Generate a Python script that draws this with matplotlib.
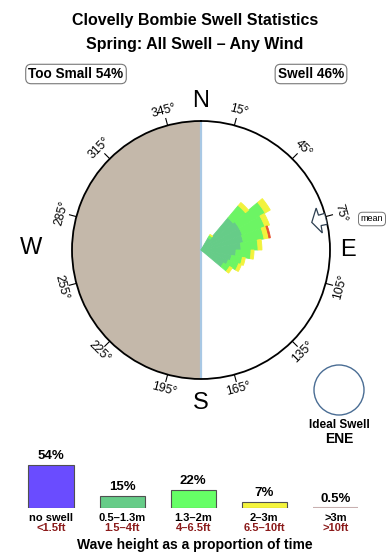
import numpy as np
import matplotlib
matplotlib.use('Agg')
import matplotlib.pyplot as plt
from matplotlib.patches import Circle

plt.rcParams['font.family'] = ['Liberation Sans', 'DejaVu Sans']

# Datos de la rosa: centro de cada sector de 10 grados
directions = [35, 45, 55, 65, 75, 85, 95, 105, 115, 125]
# % del tiempo por direccion y altura de ola
swell_05_13 = [0.28, 2.49, 2.73, 2.73, 2.61, 2.26, 1.73, 1.36, 1.19, 0.95]
swell_13_2 = [0.13, 2.26, 5.00, 3.80, 3.17, 2.33, 1.80, 1.13, 1.07, 0.59]
swell_2_3 = [0.05, 0.68, 1.31, 0.99, 0.94, 0.66, 0.44, 0.37, 0.35, 0.29]
swell_3p = [0, 0, 0, 0, 0.30, 0, 0, 0, 0, 0]
rose_max = 23.5  # % que corresponde al circulo exterior (escala por area)

# Leyenda inferior
height_pct = [54, 15, 22, 7, 0.5]
height_labels = ['no swell', '0.5\u20131.3m', '1.3\u20132m', '2\u20133m', '>3m']
feet_labels = ['<1.5ft', '1.5\u20134ft', '4\u20136.5ft', '6.5\u201310ft', '>10ft']

tick_angles = [15, 45, 75, 105, 135, 165, 195, 225, 255, 285, 315, 345]
mean_dir = 76

title_1 = 'Clovelly Bombie Swell Statistics'
title_2 = 'Spring: All Swell \u2013 Any Wind'
too_small = 'Too Small 54%'
swell_txt = 'Swell 46%'
ideal_dir = 'ENE'

# colores
land_color = '#c4b8aa'
coast_color = '#a8c8e4'
layer_colors = ['#66cc88', '#6cf564', '#f2f23c', '#e8502c']
legend_colors = ['#6a4cff', '#66cc88', '#66ff66', '#f4f43c', '#d8c0c0']
feet_color = '#8b1a1a'

W, H = 390, 560


def fx(px):
    return px / W


def fy(py):
    return 1 - py / H


fig = plt.figure(figsize=(3.9, 5.6), dpi=100)

# Titulo y cajas
fig.text(fx(195), fy(20), title_1, ha='center', va='center', fontsize=11.5,
         fontweight='bold')
fig.text(fx(195), fy(44), title_2, ha='center', va='center', fontsize=11.5,
         fontweight='bold')
box = dict(boxstyle='round,pad=0.2,rounding_size=0.4', fc='white', ec='#777777', lw=0.8)
fig.text(fx(76), fy(74), too_small, ha='center', va='center', fontsize=9.8,
         fontweight='bold', bbox=box)
fig.text(fx(311), fy(74), swell_txt, ha='center', va='center', fontsize=9.8,
         fontweight='bold', bbox=box)

# Rosa polar
R = 129
ax = fig.add_axes([fx(201 - R), fy(250 + R), 2 * R / W, 2 * R / H], projection='polar')
ax.set_theta_zero_location('N')
ax.set_theta_direction(-1)
RMAX = np.sqrt(rose_max)
ax.set_ylim(0, RMAX)
ax.set_xticks([])
ax.set_yticks([])
ax.grid(False)
ax.spines['polar'].set_linewidth(1.3)

# tierra (mitad oeste) y linea de costa
ax.bar(np.radians(270), RMAX, width=np.pi, bottom=0, color=land_color, zorder=1)
ax.plot([0, 0], [0, RMAX], color=coast_color, lw=1.6, zorder=2)
ax.plot([np.pi, np.pi], [0, RMAX], color=coast_color, lw=1.6, zorder=2)

# sectores apilados (radio proporcional a la raiz del % acumulado)
theta = np.radians(directions)
cum = np.zeros(len(directions))
for vals, col in zip([swell_05_13, swell_13_2, swell_2_3, swell_3p], layer_colors):
    new = cum + np.array(vals)
    r0 = np.sqrt(cum)
    r1 = np.sqrt(new)
    keep = r1 > r0
    ax.bar(theta[keep], (r1 - r0)[keep], width=np.radians(10), bottom=r0[keep],
           color=col, edgecolor=col, lw=0.6, zorder=3)
    cum = new

# marcas y etiquetas de grados
for a in tick_angles:
    rad = np.radians(a)
    ax.plot([rad, rad], [RMAX, RMAX * 1.055], color='black', lw=0.8, clip_on=False)
    rot = 180 - a if 90 < a < 270 else -a
    ax.text(rad, RMAX * 1.118, f'{a}\u00b0', rotation=rot, rotation_mode='anchor',
            ha='center', va='center', fontsize=8.8, clip_on=False)

# flecha de la direccion media
m = np.radians(mean_dir)
dh = np.radians(6)
ds = np.radians(2.5)
arrow_t = [m, m - dh, m - ds, m - ds, m + ds, m + ds, m + dh, m]
arrow_r = np.array([0.885, 0.95, 0.95, 1.0, 1.0, 0.95, 0.95, 0.885]) * RMAX
ax.fill(arrow_t, arrow_r, facecolor='white', edgecolor='#2c3e50', lw=0.9, zorder=4)
fig.text(fx(372), fy(219), 'mean', ha='center', va='center', fontsize=6.5,
         bbox=dict(boxstyle='round,pad=0.25,rounding_size=0.45', fc='white',
                   ec='#777777', lw=0.7))

# puntos cardinales
for lab, x, y in [('N', 201, 101), ('S', 201, 403), ('W', 31, 248), ('E', 348, 250)]:
    fig.text(fx(x), fy(y), lab, ha='center', va='center', fontsize=17)

# Ola ideal
ideal = Circle((339 / 100, (H - 390) / 100), 0.25, transform=fig.dpi_scale_trans,
               fill=False, edgecolor='#4a6d94', lw=1.0)
fig.add_artist(ideal)
fig.text(fx(339), fy(425), 'Ideal Swell', ha='center', va='center', fontsize=8.5,
         fontweight='bold')
fig.text(fx(339), fy(439), ideal_dir, ha='center', va='center', fontsize=10,
         fontweight='bold')

# Leyenda de alturas
lax = fig.add_axes([fx(15.4), fy(508), (371 - 15.4) / W, 60 / H])
lax.set_xlim(-0.5, 4.5)
lax.set_ylim(0, 75)
lax.axis('off')
xs = np.arange(len(height_pct))
bars = lax.bar(xs, height_pct, width=0.634, color=legend_colors,
               edgecolor='#505050', lw=0.8)
bars[-1].set_edgecolor('#c8b0b0')
bars[-1].set_linewidth(1.5)
for i, h in enumerate(height_pct):
    lax.annotate(f'{h:g}%', (i, h), xytext=(0, 6.5), textcoords='offset points',
                 ha='center', va='center', fontsize=9.5, fontweight='bold')
    lax.annotate(height_labels[i], (i, 0), xytext=(0, -7.3), textcoords='offset points',
                 ha='center', va='center', fontsize=8, fontweight='bold',
                 annotation_clip=False)
    lax.annotate(feet_labels[i], (i, 0), xytext=(0, -14.6), textcoords='offset points',
                 ha='center', va='center', fontsize=8, fontweight='bold',
                 color=feet_color, annotation_clip=False)
fig.text(fx(195), fy(545), 'Wave height as a proportion of time', ha='center',
         va='center', fontsize=10, fontweight='bold')

fig.savefig('out.png', dpi=100)
